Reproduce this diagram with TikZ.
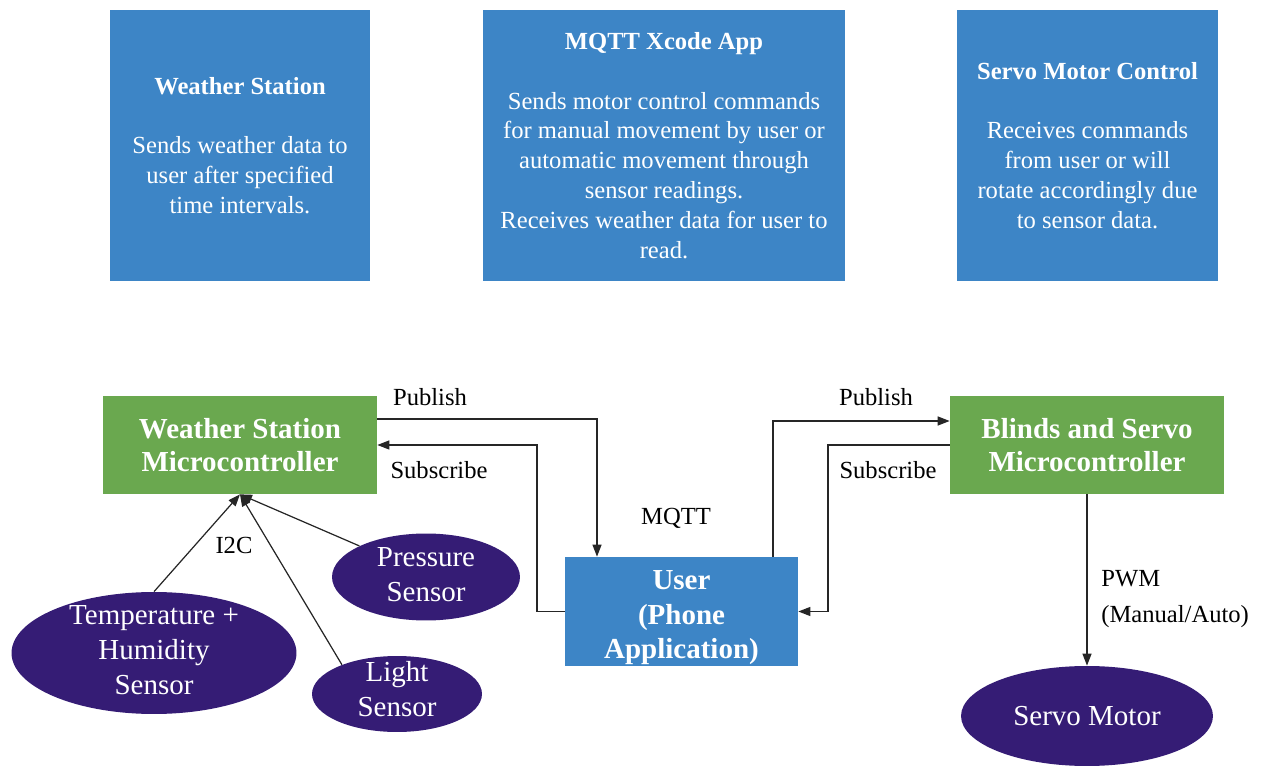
\documentclass[tikz,border=0pt]{standalone}
\usepackage{fontspec}
\setmainfont{Liberation Serif}
\usetikzlibrary{shapes.geometric,arrows.meta}
\definecolor{boxblue}{HTML}{3D85C6}
\definecolor{mcugreen}{HTML}{6AA84F}
\definecolor{sensorpurple}{HTML}{351C75}
\begin{document}
\begin{tikzpicture}[x=0.02cm, y=-0.02cm,
  info/.style={rectangle, fill=boxblue, text=white, align=center, minimum height=5.42cm, inner sep=0pt, font=\fontsize{14}{17}\selectfont},
  mcu/.style={rectangle, fill=mcugreen, text=white, align=center, minimum width=5.48cm, minimum height=1.96cm, inner sep=0pt, font=\bfseries\fontsize{16.5}{19}\selectfont},
  sensor/.style={ellipse, fill=sensorpurple, text=white, align=center, inner sep=-6pt, font=\fontsize{16.5}{20}\selectfont},
  link/.style={-{Triangle[length=2.4mm,width=1.8mm]}, line width=0.7pt, draw=black!85},
  tag/.style={font=\fontsize{14}{20}\selectfont, inner sep=0pt}]
\useasboundingbox (0,0) rectangle (1261,766);

% description boxes
\node[info, minimum width=5.2cm] (wsinfo) at (240,145.5) {\textbf{Weather Station}\\[17pt] Sends weather data to\\ user after specified\\ time intervals.};
\node[info, minimum width=7.24cm] (appinfo) at (664,145.5) {\textbf{MQTT Xcode App}\\[17pt] Sends motor control commands\\ for manual movement by user or\\ automatic movement through\\ sensor readings.\\ Receives weather data for user to\\ read.};
\node[info, minimum width=5.22cm] (servoinfo) at (1087.5,145.5) {\textbf{Servo Motor Control}\\[17pt] Receives commands\\ from user or will\\ rotate accordingly due\\ to sensor data.};

% controllers and phone
\node[mcu] (ws) at (240,445) {Weather Station\\ Microcontroller};
\node[mcu] (blinds) at (1087,445) {Blinds and Servo\\ Microcontroller};
\node[mcu, fill=boxblue, minimum width=4.66cm, minimum height=2.18cm, font=\bfseries\fontsize{16.5}{19.6}\selectfont] (user) at (681.5,611.5) {\rule{0pt}{18pt}User\\ (Phone\\ Application)};

% sensors and motor
\node[sensor, minimum width=5.7cm, minimum height=2.44cm] (temphum) at (154,653) {Temperature +\\ Humidity\\ Sensor\rule[-3pt]{0pt}{0pt}};
\node[sensor, minimum width=3.76cm, minimum height=1.74cm] (pressure) at (426,577) {Pressure\\ Sensor\rule[-3pt]{0pt}{0pt}};
\node[sensor, minimum width=3.4cm, minimum height=1.52cm] (light) at (397,694) {Light\\ Sensor\rule[-5.5pt]{0pt}{0pt}};
\node[sensor, minimum width=5.04cm, minimum height=2cm] (servo) at (1087,716) {Servo Motor};

% MQTT links
\coordinate (pubws) at (597,419);
\coordinate (subws) at (537,445);
\coordinate (pubbl) at (773,421);
\coordinate (subbl) at (828,611.5);
\draw[link] (ws.east |- pubws) -| (user.north -| pubws);
\draw[link] (user.west) -| (subws) -- (ws.east);
\draw[link] (user.north -| pubbl) |- (blinds.west |- pubbl);
\draw[link] (blinds.west) -| (subbl) -- (user.east);

% sensor buses
\draw[link] (temphum.north) -- (ws.south);
\draw[link] (light.152) -- (ws.south);
\draw[link] (pressure.155) -- (ws.south);
\draw[link] (blinds.south) -- (servo.north);

% labels
\node[tag] (pubwslbl) at (430,397) {Publish};
\node[tag] (subwslbl) at (439,470) {Subscribe};
\node[tag] (pubbllbl) at (876,397) {Publish};
\node[tag] (subbllbl) at (888,470) {Subscribe};
\node[tag] (mqttlbl) at (676,518) {MQTT};
\node[tag] (i2clbl) at (234,545) {I2C};
\node[tag, anchor=west, align=left] (pwmlbl) at (1101,599) {PWM\\ (Manual/Auto)};
\end{tikzpicture}
\end{document}
